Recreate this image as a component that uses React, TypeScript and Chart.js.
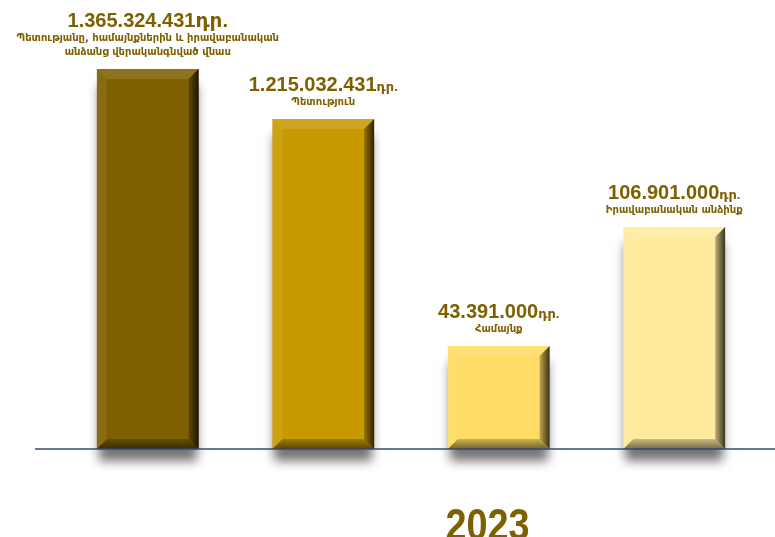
import { useEffect, useRef } from 'react';
import { Chart, ChartConfiguration, Plugin, registerables } from 'chart.js';

Chart.register(...registerables);

// label lines shown above each bar
const categories: string[][] = [
  ['Պետությանը, համայնքներին և իրավաբանական', 'անձանց վերականգնված վնաս'],
  ['Պետություն'],
  ['Համայնք'],
  ['Իրավաբանական անձինք'],
];
const amounts = ['1.365.324.431', '1.215.032.431', '43.391.000', '106.901.000'];
const currency = 'դր.';
// bar heights as drawn in the picture (not to scale with the amounts)
const barHeights = [380, 330, 103, 222];
const year = '2023';

const barColors = ['#7f6000', '#c99a00', '#ffdc66', '#ffea9e'];
const textColor = '#7f6000';
const unitSizes = [20, 13, 13, 13];

const bevelPlugin: Plugin<'bar'> = {
  id: 'bevelBars',
  beforeDatasetsDraw(chart) {
    const ctx = chart.ctx;
    const meta = chart.getDatasetMeta(0);
    ctx.save();
    meta.data.forEach((el: any) => {
      const { x, y, base, width } = el.getProps(['x', 'y', 'base', 'width'], true);
      ctx.shadowColor = 'rgba(0,0,0,0.55)';
      ctx.shadowBlur = 10;
      ctx.shadowOffsetY = 12;
      ctx.fillStyle = '#888';
      ctx.fillRect(x - width / 2 + 2, y + 4, width - 4, base - y - 4);
    });
    ctx.restore();
  },
  afterDatasetsDraw(chart) {
    const ctx = chart.ctx;
    const meta = chart.getDatasetMeta(0);
    const area = chart.chartArea;
    ctx.save();
    meta.data.forEach((el: any, i: number) => {
      const { x, y, base, width } = el.getProps(['x', 'y', 'base', 'width'], true);
      const l = x - width / 2;
      const r = x + width / 2;
      const t = y;
      const b = base;
      const bv = 10;
      const poly = (pts: number[][], fill: string | CanvasGradient) => {
        ctx.beginPath();
        ctx.moveTo(pts[0][0], pts[0][1]);
        pts.slice(1).forEach((p) => ctx.lineTo(p[0], p[1]));
        ctx.closePath();
        ctx.fillStyle = fill;
        ctx.fill();
      };
      // top
      poly([[l, t], [r, t], [r - bv, t + bv], [l + bv, t + bv]], 'rgba(255,255,255,0.12)');
      // left
      poly([[l, t], [l + bv, t + bv], [l + bv, b - bv], [l, b]], 'rgba(255,255,255,0.07)');
      // right
      const gr = ctx.createLinearGradient(r - bv, 0, r, 0);
      gr.addColorStop(0, 'rgba(0,0,0,0.25)');
      gr.addColorStop(1, 'rgba(0,0,0,0.78)');
      poly([[r, t], [r, b], [r - bv, b - bv], [r - bv, t + bv]], gr);
      // bottom
      const gb = ctx.createLinearGradient(0, b - bv, 0, b);
      gb.addColorStop(0, 'rgba(0,0,0,0.2)');
      gb.addColorStop(1, 'rgba(0,0,0,0.55)');
      poly([[l, b], [r, b], [r - bv, b - bv], [l + bv, b - bv]], gb);

      // labels
      ctx.fillStyle = textColor;
      ctx.textBaseline = 'middle';
      ctx.textAlign = 'center';
      const lines = categories[i];
      ctx.font = 'bold 10px "DejaVu Sans", sans-serif';
      let ly = t - 17;
      for (let k = lines.length - 1; k >= 0; k--) {
        ctx.fillText(lines[k], x, ly);
        if (k > 0) ly -= 14;
      }
      const ay = ly - 18;
      ctx.textAlign = 'left';
      ctx.font = 'bold 20px "Liberation Sans", Arial, sans-serif';
      const wNum = ctx.measureText(amounts[i]).width;
      ctx.font = `bold ${unitSizes[i]}px "Liberation Sans", "DejaVu Sans", sans-serif`;
      const wUnit = ctx.measureText(currency).width;
      const sx = x - (wNum + wUnit) / 2;
      ctx.font = 'bold 20px "Liberation Sans", Arial, sans-serif';
      ctx.textBaseline = 'alphabetic';
      ctx.fillText(amounts[i], sx, ay + 7);
      ctx.font = `bold ${unitSizes[i]}px "Liberation Sans", "DejaVu Sans", sans-serif`;
      ctx.fillText(currency, sx + wNum, ay + 7);
    });

    // baseline
    const base0 = chart.scales.y.getPixelForValue(0);
    ctx.strokeStyle = '#34496e';
    ctx.lineWidth = 1.5;
    ctx.beginPath();
    ctx.moveTo(area.left - 25, base0);
    ctx.lineTo(chart.width, base0);
    ctx.stroke();

    // year, condensed like Arial Narrow
    const yx = area.left + (area.right - area.left) * 0.609;
    ctx.translate(yx, 540);
    ctx.scale(0.86, 1);
    ctx.fillStyle = textColor;
    ctx.textAlign = 'center';
    ctx.textBaseline = 'alphabetic';
    ctx.font = 'bold 44px "Liberation Sans", sans-serif';
    ctx.fillText(year, 0, 0);
    ctx.restore();
  },
};

export default function App() {
  const canvasRef = useRef<HTMLCanvasElement>(null);
  const chartRef = useRef<Chart | null>(null);

  useEffect(() => {
    if (!canvasRef.current) return;

    const config: ChartConfiguration<'bar'> = {
      type: 'bar',
      data: {
        labels: categories.map((c) => c.join(' ')),
        datasets: [
          {
            data: barHeights,
            backgroundColor: barColors,
            borderWidth: 0,
            categoryPercentage: 1,
            barPercentage: 0.58,
          },
        ],
      },
      options: {
        responsive: true,
        maintainAspectRatio: false,
        animation: false,
        layout: { padding: { left: 60, right: 13, top: 49, bottom: 88 } },
        plugins: {
          legend: { display: false },
          tooltip: { enabled: false },
        },
        scales: {
          x: { display: false },
          y: { display: false, min: 0, max: 400 },
        },
      },
      plugins: [bevelPlugin],
    };

    chartRef.current = new Chart(canvasRef.current, config);

    return () => {
      chartRef.current?.destroy();
    };
  }, []);

  return (
    <div style={{ position: 'absolute', left: 0, top: 0, width: '775px', height: '537px', background: '#fff' }}>
      <canvas ref={canvasRef}></canvas>
    </div>
  );
}
